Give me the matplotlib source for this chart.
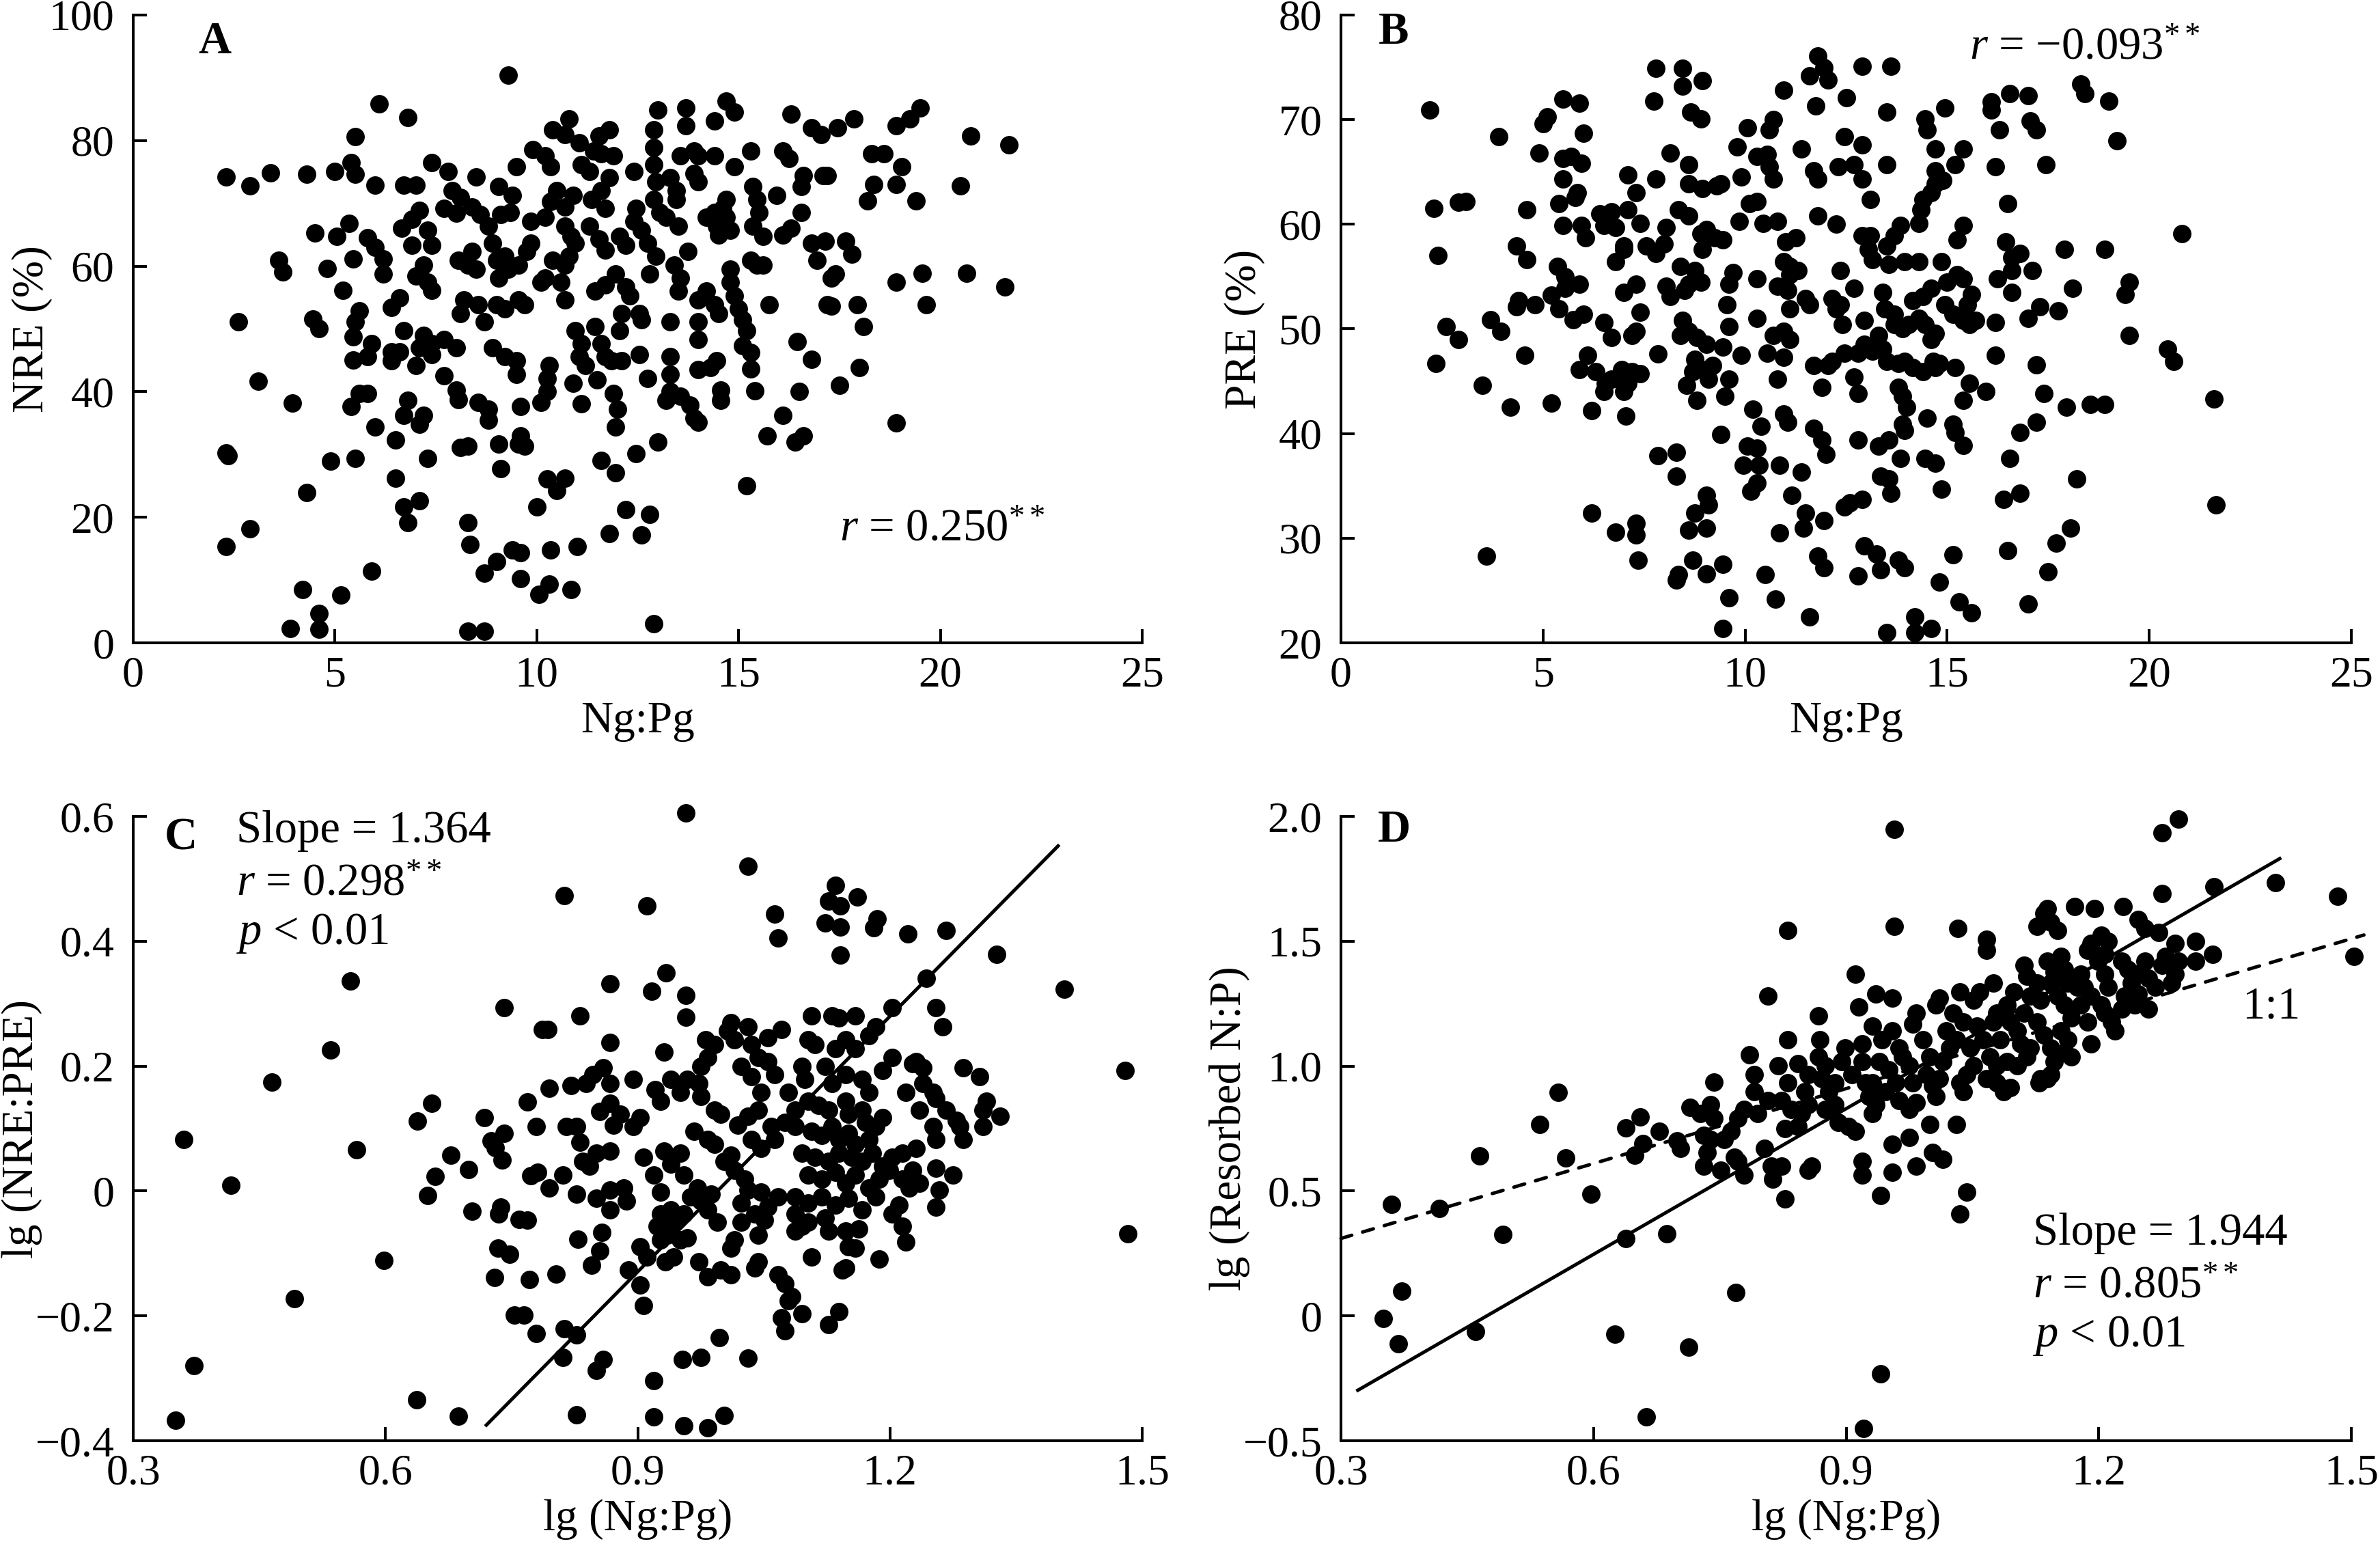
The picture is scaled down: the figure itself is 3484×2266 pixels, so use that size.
import numpy as np
import matplotlib
matplotlib.use("Agg")
import matplotlib.pyplot as plt

plt.rcParams['font.family'] = ['Liberation Serif', 'DejaVu Serif']
plt.rcParams['mathtext.fontset'] = 'custom'
plt.rcParams['mathtext.rm'] = 'Liberation Serif'
plt.rcParams['mathtext.it'] = 'Liberation Serif:italic'
plt.rcParams['axes.unicode_minus'] = True

# ---- data ----
# A: Ng:Pg vs NRE (%)
a_points = [
    (9.3, 90.4), (6.1, 85.9), (6.8, 83.7), (5.5, 80.6), (2.3, 74.2), (2.9, 72.8), (3.4, 74.9), (4.3, 74.6),
    (5.0, 75.1), (5.4, 76.5), (5.5, 74.6), (6.0, 72.9), (6.7, 72.9), (7.0, 72.9), (7.4, 76.5), (7.8, 75.1),
    (2.6, 51.1), (3.1, 41.7), (2.3, 30.3), (2.35, 29.8), (2.3, 15.3), (2.9, 18.2), (3.6, 60.9), (3.7, 59.1),
    (3.95, 38.2), (3.9, 2.3), (4.2, 8.5), (4.3, 23.9), (4.6, 4.7), (4.6, 2.2), (4.5, 65.3), (4.45, 51.6),
    (4.6, 50.1), (4.8, 59.6), (5.05, 64.7), (4.9, 28.9), (5.15, 7.6), (5.2, 56.1), (5.45, 61.1), (5.35, 66.8),
    (5.6, 52.9), (5.5, 51.1), (5.45, 48.7), (5.45, 45.1), (5.4, 37.7), (5.6, 39.7), (5.8, 39.7), (5.5, 29.4),
    (5.9, 11.4), (5.8, 64.5), (6.0, 63.0), (6.2, 61.2), (6.2, 58.8), (5.9, 47.7), (5.8, 45.6), (6.0, 34.4),
    (6.4, 46.4), (6.6, 46.4), (6.4, 44.9), (6.5, 32.3), (6.5, 26.2), (6.7, 21.6), (6.8, 19.1), (7.1, 22.6),
    (7.3, 29.4), (6.6, 55.0), (6.4, 53.4), (6.65, 66.1), (6.9, 67.5), (7.1, 68.9), (6.9, 63.3), (7.0, 58.4),
    (7.2, 60.2), (7.3, 57.4), (7.4, 56.1), (7.3, 65.7), (7.4, 63.3), (6.7, 49.7), (7.2, 49.0), (7.4, 47.7),
    (7.1, 47.0), (7.4, 45.9), (7.7, 48.3), (8.0, 47.0), (7.0, 44.2), (6.8, 38.6), (6.7, 36.2), (7.2, 36.2),
    (7.1, 34.8), (7.7, 42.6), (8.0, 40.3), (8.05, 38.7), (7.7, 69.2), (8.0, 68.4), (7.9, 72.0), (8.1, 71.0),
    (8.5, 74.2), (9.05, 72.7), (9.4, 71.3), (8.4, 69.4), (8.6, 68.2), (8.8, 66.4), (9.1, 68.2), (9.35, 68.5),
    (8.05, 60.9), (8.3, 60.2), (8.4, 62.3), (8.5, 59.5), (8.1, 52.5), (8.2, 54.6), (8.55, 53.9), (8.7, 51.1),
    (8.9, 63.7), (9.0, 60.9), (9.2, 61.6), (9.0, 53.9), (9.2, 53.2), (9.55, 54.6), (9.7, 53.9), (9.05, 58.1),
    (9.3, 59.5), (9.55, 60.2), (9.85, 63.7), (9.75, 62.3), (9.85, 67.1), (10.2, 67.8), (9.5, 75.8), (9.9, 78.6),
    (10.2, 77.6), (10.4, 81.7), (10.8, 83.5), (10.35, 75.8), (10.7, 81.0), (11.05, 79.7), (8.9, 47.0), (9.2, 45.6),
    (9.5, 44.9), (9.5, 42.8), (9.05, 31.7), (9.6, 33.0), (9.55, 31.7), (9.7, 31.3), (9.6, 37.6), (8.3, 31.3),
    (8.3, 19.1), (8.35, 15.7), (8.55, 38.3), (8.8, 37.2), (8.8, 35.5), (8.1, 31.1), (9.1, 27.8), (8.7, 11.1),
    (9.0, 12.9), (8.3, 1.9), (8.7, 1.9), (9.4, 14.8), (9.6, 14.4), (9.6, 10.2), (10.05, 7.7), (10.3, 9.4),
    (10.35, 14.8), (11.0, 15.3), (10.0, 21.6), (10.85, 8.5), (10.25, 26.1), (10.5, 24.3), (10.7, 26.2), (10.1, 38.3),
    (10.25, 40.0), (10.3, 44.2), (10.25, 42.1), (10.9, 41.4), (11.1, 38.1), (10.1, 57.4), (10.2, 58.1), (10.6, 57.4),
    (10.7, 54.6), (10.4, 60.9), (10.7, 60.2), (10.8, 61.6), (10.7, 66.4), (10.85, 64.7), (10.95, 63.7), (10.35, 70.3),
    (10.7, 69.4), (10.5, 72.0), (10.9, 71.3), (11.1, 76.2), (11.3, 75.1), (11.4, 78.3), (11.6, 77.9), (11.55, 80.7),
    (11.8, 81.7), (11.9, 77.6), (11.35, 70.6), (11.6, 72.0), (11.7, 69.2), (11.8, 74.1), (11.3, 66.4), (11.55, 64.3),
    (11.7, 62.6), (12.2, 63.3), (12.05, 64.7), (11.45, 56.0), (11.7, 57.0), (11.95, 58.8), (12.2, 56.7), (12.3, 55.3),
    (10.95, 49.7), (11.1, 47.7), (11.05, 45.6), (11.2, 44.2), (11.45, 50.4), (11.6, 47.7), (11.7, 45.6), (11.85, 44.9),
    (12.1, 44.9), (12.05, 49.7), (11.5, 41.9), (11.9, 39.7), (12.0, 37.2), (11.95, 34.4), (11.6, 29.0), (11.95, 27.1),
    (12.2, 21.2), (11.8, 17.4), (12.45, 30.1), (12.8, 20.5), (12.6, 17.2), (13.0, 32.0), (12.9, 3.1), (12.55, 45.9),
    (12.75, 42.1), (12.55, 52.5), (12.6, 51.5), (12.1, 52.5), (12.4, 75.1), (12.45, 69.2), (12.4, 67.1), (12.6, 65.7),
    (12.75, 63.7), (12.8, 58.8), (12.95, 61.6), (12.9, 81.7), (12.9, 78.9), (13.0, 84.9), (12.9, 76.2), (12.95, 73.4),
    (12.9, 70.6), (13.05, 68.5), (13.3, 74.1), (13.45, 72.0), (13.45, 70.6), (13.55, 77.6), (13.7, 85.2), (13.7, 82.4),
    (13.9, 78.3), (13.2, 67.8), (13.5, 66.4), (13.75, 62.3), (13.4, 60.2), (13.55, 58.1), (13.5, 56.0), (13.3, 51.1),
    (13.3, 45.6), (13.3, 42.8), (13.3, 40.0), (13.55, 39.3), (13.2, 38.6), (13.8, 37.9), (13.9, 35.8), (14.0, 35.1),
    (14.0, 48.3), (14.0, 43.5), (14.3, 43.8), (14.45, 44.9), (14.55, 40.3), (14.55, 38.6), (14.0, 51.1), (14.0, 54.6),
    (14.2, 56.0), (14.4, 53.9), (14.5, 52.5), (13.9, 74.8), (14.0, 77.6), (14.0, 73.4), (14.4, 77.6), (14.4, 83.1),
    (14.7, 86.3), (14.9, 84.5), (14.2, 67.8), (14.4, 68.5), (14.45, 66.4), (14.7, 70.6), (14.6, 69.2), (14.7, 67.8),
    (14.8, 65.7), (14.5, 65.0), (14.9, 75.8), (14.8, 59.5), (14.8, 57.4), (14.9, 55.3), (15.0, 53.2), (15.1, 51.5),
    (15.2, 49.7), (15.1, 47.3), (15.3, 46.3), (15.3, 43.6), (15.4, 40.2), (15.2, 25.0), (15.7, 33.0), (16.1, 36.2),
    (15.3, 78.3), (15.35, 72.7), (15.45, 70.6), (15.5, 68.5), (15.35, 66.4), (15.6, 64.7), (15.3, 60.9), (15.45, 60.2),
    (15.6, 60.2), (15.75, 53.9), (15.95, 71.3), (16.1, 78.3), (16.25, 77.2), (16.3, 84.2), (16.1, 65.0), (16.3, 66.1),
    (16.55, 68.5), (16.55, 72.7), (16.6, 74.4), (16.45, 48.0), (16.5, 40.0), (16.4, 32.0), (16.6, 33.0), (16.8, 45.2),
    (16.8, 82.1), (17.05, 81.0), (17.45, 82.1), (17.85, 83.5), (17.1, 74.4), (17.2, 74.4), (16.8, 63.7), (17.15, 64.0),
    (16.95, 60.9), (17.3, 58.1), (17.4, 58.8), (17.2, 53.9), (17.3, 53.6), (17.5, 41.0), (17.65, 64.0), (17.8, 61.9),
    (17.95, 53.9), (18.1, 50.4), (18.0, 43.8), (18.2, 70.4), (18.35, 73.0), (18.3, 77.9), (18.6, 77.9), (18.9, 82.4),
    (19.25, 83.5), (19.5, 85.2), (18.9, 73.0), (19.05, 75.8), (19.4, 70.4), (18.9, 57.4), (19.55, 58.9), (19.65, 53.9),
    (18.9, 35.0), (20.5, 72.8), (20.75, 80.7), (20.65, 58.9), (21.7, 79.3), (21.6, 56.7),
]

# B: Ng:Pg vs PRE (%)
b_points = [
    (2.2, 70.9), (2.3, 61.5), (2.4, 57.0), (2.35, 46.7), (2.6, 50.2), (2.9, 49.0), (2.9, 62.1), (3.1, 62.2),
    (3.5, 44.6), (3.6, 28.3), (3.7, 50.9), (3.95, 49.8), (3.9, 68.4), (4.2, 42.5), (4.35, 57.9), (4.6, 56.6),
    (4.6, 61.4), (4.4, 52.7), (4.35, 52.1), (4.8, 52.3), (4.55, 47.5), (4.9, 66.8), (5.0, 69.6), (5.1, 70.3),
    (5.5, 72.0), (5.9, 71.6), (5.5, 66.3), (5.7, 66.5), (5.95, 65.8), (6.0, 68.7), (5.5, 64.3), (5.4, 62.0),
    (5.8, 62.6), (5.85, 63.0), (5.5, 59.9), (5.95, 59.9), (6.05, 58.7), (5.2, 53.2), (5.4, 51.9), (5.35, 56.0),
    (5.55, 55.0), (5.9, 54.3), (5.55, 53.9), (5.75, 50.9), (6.0, 51.4), (5.2, 42.9), (5.9, 46.1), (6.1, 47.5),
    (6.3, 45.9), (6.2, 42.2), (6.2, 32.4), (6.4, 61.0), (6.5, 59.9), (6.7, 61.2), (6.8, 59.7), (6.8, 56.4),
    (7.0, 57.6), (7.0, 57.9), (6.5, 50.6), (6.7, 49.2), (6.5, 44.0), (6.7, 45.2), (6.55, 44.8), (7.0, 44.0),
    (7.1, 44.8), (7.05, 41.7), (6.95, 46.1), (7.2, 45.9), (7.4, 45.7), (6.8, 30.6), (7.1, 64.7), (7.3, 63.0),
    (7.1, 61.4), (7.4, 60.1), (7.0, 53.5), (7.3, 54.3), (7.4, 51.6), (7.3, 49.8), (7.2, 49.4), (7.3, 31.4),
    (7.3, 30.3), (7.35, 27.9), (7.8, 64.3), (7.75, 71.8), (7.8, 74.9), (7.55, 57.9), (7.8, 57.2), (8.0, 58.1),
    (8.05, 59.7), (8.15, 66.8), (8.6, 65.7), (8.05, 54.1), (8.15, 53.1), (8.5, 53.7), (7.85, 47.6), (7.85, 37.9),
    (8.3, 38.2), (8.3, 35.9), (8.3, 26.0), (8.35, 26.5), (8.45, 74.9), (8.45, 73.2), (8.95, 73.7), (8.65, 70.7),
    (8.9, 70.1), (8.6, 63.9), (8.95, 63.4), (9.3, 63.7), (8.35, 61.4), (8.6, 60.8), (8.9, 59.1), (9.05, 59.5),
    (8.95, 57.6), (8.4, 56.0), (8.75, 55.6), (8.9, 54.5), (8.6, 54.3), (8.45, 50.8), (8.6, 49.8), (8.4, 49.4),
    (8.8, 49.2), (9.05, 48.5), (8.75, 47.1), (8.95, 46.1), (8.7, 45.9), (9.2, 46.5), (9.1, 45.2), (8.55, 44.6),
    (8.8, 43.2), (9.05, 34.1), (9.1, 33.2), (8.75, 32.4), (8.6, 30.8), (9.05, 31.0), (8.7, 27.9), (9.05, 26.6),
    (9.45, 27.5), (9.6, 24.3), (9.45, 21.4), (9.25, 58.7), (9.45, 58.5), (9.7, 55.4), (9.6, 54.3), (9.55, 52.3),
    (9.6, 50.2), (9.45, 48.3), (9.9, 47.5), (9.6, 45.2), (9.5, 43.6), (9.4, 39.9), (9.4, 63.9), (9.8, 67.4),
    (9.9, 64.5), (10.05, 69.2), (10.3, 66.5), (10.55, 66.7), (10.6, 69.0), (10.7, 70.0), (9.85, 60.3), (10.1, 62.0),
    (10.3, 62.2), (10.45, 60.1), (10.8, 60.3), (10.7, 64.3), (10.6, 65.5), (10.3, 54.8), (10.8, 54.1), (11.0, 58.3),
    (11.25, 58.7), (10.95, 56.4), (11.1, 56.0), (11.3, 55.6), (11.1, 55.2), (11.05, 53.7), (11.1, 51.9), (10.3, 51.0),
    (10.7, 49.4), (10.95, 49.8), (11.1, 49.0), (10.55, 47.7), (10.95, 47.3), (10.8, 45.2), (10.2, 42.3), (10.4, 40.7),
    (10.95, 41.9), (11.05, 41.1), (10.05, 38.8), (10.3, 38.6), (9.95, 37.0), (10.35, 37.0), (10.85, 37.0), (10.3, 35.3),
    (10.15, 34.5), (11.15, 34.1), (11.4, 36.3), (10.85, 30.5), (11.5, 32.4), (11.45, 31.0), (11.95, 31.7), (10.5, 26.5),
    (10.75, 24.2), (11.6, 22.5), (11.4, 67.2), (11.7, 65.1), (11.8, 64.3), (11.75, 71.3), (11.6, 74.2), (11.8, 76.1),
    (11.95, 75.0), (12.05, 73.8), (10.95, 72.8), (11.8, 60.8), (12.25, 60.0), (12.35, 55.6), (11.5, 52.9), (11.6, 52.3),
    (12.15, 52.9), (12.25, 51.9), (12.4, 50.4), (12.35, 52.3), (11.7, 46.5), (12.05, 46.5), (11.9, 44.4), (12.15, 46.9),
    (12.45, 47.7), (11.7, 40.5), (11.9, 39.4), (12.0, 38.0), (11.8, 28.3), (11.95, 27.2), (12.45, 33.0), (12.6, 33.4),
    (12.9, 33.7), (12.3, 65.5), (12.7, 65.7), (12.9, 67.6), (12.45, 68.4), (12.9, 64.3), (12.5, 72.1), (12.9, 75.1),
    (13.6, 75.1), (13.1, 62.4), (13.5, 70.7), (13.5, 65.7), (12.9, 58.9), (13.05, 57.6), (13.15, 56.6), (13.55, 56.2),
    (13.1, 58.9), (12.7, 53.9), (12.95, 50.8), (12.8, 47.7), (13.15, 47.9), (12.95, 48.5), (12.7, 45.4), (12.8, 43.8),
    (12.8, 39.4), (13.3, 38.8), (13.55, 39.4), (13.35, 35.9), (13.55, 35.7), (13.6, 34.3), (13.85, 37.6), (12.95, 29.3),
    (13.25, 28.5), (13.35, 27.0), (13.8, 27.9), (13.95, 27.2), (12.8, 26.4), (13.5, 21.0), (14.2, 22.5), (14.2, 21.0),
    (14.6, 21.4), (13.4, 53.5), (13.45, 51.9), (13.7, 51.4), (13.7, 50.4), (13.9, 50.0), (13.3, 49.4), (13.4, 48.1),
    (13.5, 46.9), (13.8, 46.7), (13.95, 46.9), (13.8, 44.4), (13.9, 43.6), (14.0, 42.5), (13.9, 40.9), (13.95, 40.3),
    (13.5, 57.9), (13.7, 58.9), (13.85, 59.9), (13.95, 56.4), (14.3, 56.4), (14.15, 52.7), (14.4, 53.1), (14.6, 53.9),
    (14.3, 51.0), (14.05, 50.4), (14.45, 50.4), (14.15, 46.3), (14.4, 45.9), (14.65, 46.9), (14.7, 46.3), (14.8, 46.7),
    (14.5, 41.5), (14.6, 49.0), (14.7, 49.6), (14.45, 37.6), (14.7, 37.2), (14.85, 34.7), (14.8, 25.8), (14.3, 60.1),
    (14.35, 61.4), (14.4, 62.4), (14.6, 63.0), (14.7, 63.9), (14.7, 65.1), (14.9, 64.2), (14.45, 70.1), (14.5, 69.0),
    (14.7, 67.2), (14.95, 71.1), (15.2, 65.7), (15.4, 67.2), (15.4, 59.9), (15.25, 58.5), (14.85, 56.4), (15.0, 54.5),
    (15.25, 55.2), (15.4, 54.8), (15.6, 53.3), (14.95, 52.3), (15.15, 51.4), (15.4, 50.8), (15.55, 50.4), (15.7, 50.8),
    (15.5, 52.3), (15.2, 46.3), (15.55, 44.8), (15.4, 43.2), (15.95, 44.0), (15.15, 40.9), (15.2, 40.1), (15.4, 38.9),
    (15.15, 28.4), (15.3, 23.9), (15.6, 22.9), (16.1, 71.7), (16.1, 70.9), (16.3, 69.0), (16.2, 65.5), (16.55, 72.5),
    (17.0, 72.3), (17.05, 69.9), (17.2, 69.0), (17.45, 65.7), (16.5, 62.0), (16.45, 58.3), (16.6, 56.8), (16.8, 57.2),
    (16.6, 55.6), (16.25, 54.8), (16.6, 53.5), (17.1, 55.6), (17.0, 51.0), (17.3, 52.1), (17.75, 51.7), (18.1, 53.9),
    (16.2, 50.6), (16.2, 47.5), (17.2, 46.6), (17.4, 43.8), (17.95, 42.5), (18.55, 42.8), (18.9, 42.8), (17.2, 41.1),
    (16.8, 40.1), (16.55, 37.6), (16.8, 34.3), (16.4, 33.7), (17.9, 57.6), (18.9, 57.6), (18.05, 31.0), (17.7, 29.5),
    (17.5, 26.8), (16.5, 28.8), (17.0, 23.7), (18.2, 35.7), (18.3, 73.4), (18.4, 72.5), (19.0, 71.8), (19.2, 68.0),
    (19.5, 54.5), (19.4, 53.3), (19.5, 49.4), (20.45, 48.1), (20.6, 46.9), (20.8, 59.1), (21.6, 43.3), (21.65, 33.2),
]

# C: lg(Ng:Pg) vs lg(NRE:PRE)
c_points = [
    (0.35, -0.367), (0.36, 0.083), (0.372, -0.28), (0.416, 0.009), (0.465, 0.174), (0.492, -0.172), (0.535, 0.226),
    (0.558, 0.336), (0.566, 0.066), (0.598, -0.111), (0.637, -0.334), (0.638, 0.112), (0.655, 0.14), (0.65, -0.007),
    (0.659, 0.023), (0.678, 0.057), (0.687, -0.361), (0.699, 0.034), (0.703, -0.032), (0.718, 0.118), (0.726, 0.08),
    (0.731, 0.069), (0.741, 0.092), (0.739, 0.05), (0.737, -0.026), (0.735, -0.037), (0.741, 0.294), (0.734, -0.091),
    (0.748, -0.101), (0.73, -0.139), (0.753, -0.199), (0.765, -0.199), (0.759, -0.045), (0.769, -0.047), (0.771, -0.142),
    (0.769, 0.143), (0.779, 0.103), (0.779, -0.228), (0.773, 0.024), (0.781, 0.03), (0.795, 0.005), (0.787, 0.259),
    (0.793, 0.259), (0.795, 0.165), (0.803, -0.133), (0.813, 0.473), (0.811, -0.266), (0.813, -0.221), (0.827, -0.23),
    (0.821, 0.169), (0.839, 0.172), (0.847, 0.186), (0.859, 0.197), (0.867, 0.172), (0.815, 0.103), (0.827, 0.103),
    (0.831, 0.078), (0.811, 0.026), (0.827, -0.005), (0.835, 0.047), (0.843, 0.04), (0.851, 0.061), (0.867, 0.064),
    (0.831, 0.28), (0.855, 0.127), (0.867, 0.141), (0.871, 0.106), (0.879, 0.123), (0.851, -0.012), (0.867, 0.002),
    (0.867, -0.03), (0.887, -0.016), (0.883, 0.005), (0.829, -0.077), (0.857, -0.066), (0.855, -0.096), (0.845, -0.119),
    (0.859, -0.27), (0.851, -0.287), (0.827, -0.358), (0.867, 0.238), (0.867, 0.332), (0.889, -0.126), (0.903, -0.151),
    (0.907, -0.183), (0.895, 0.103), (0.903, 0.117), (0.895, 0.179), (0.921, 0.162), (0.927, 0.144), (0.917, 0.32),
    (0.934, 0.35), (0.931, 0.222), (0.957, 0.313), (0.957, 0.278), (0.911, 0.457), (0.957, 0.605), (1.031, 0.52),
    (0.907, 0.054), (0.919, 0.026), (0.927, -0.002), (0.931, 0.064), (0.939, 0.043), (0.951, 0.061), (0.955, 0.026),
    (0.927, -0.037), (0.939, -0.03), (0.943, -0.05), (0.955, -0.037), (0.951, -0.078), (0.903, -0.089), (0.911, -0.106),
    (0.923, -0.057), (0.927, -0.078), (0.935, -0.071), (0.933, -0.113), (0.943, -0.106), (0.959, -0.075), (0.919, -0.304),
    (0.919, -0.362), (0.953, -0.27), (0.975, -0.266), (0.955, -0.376), (0.983, -0.379), (1.003, -0.36), (0.939, 0.179),
    (0.951, 0.158), (0.959, 0.179), (0.973, 0.172), (0.975, 0.151), (0.967, 0.096), (0.963, -0.009), (0.971, 0.005),
    (0.975, -0.016), (0.987, -0.005), (0.983, -0.03), (0.973, -0.113), (0.983, -0.137), (0.999, -0.127), (1.011, -0.134),
    (0.995, -0.05), (0.997, -0.235), (1.031, -0.268), (0.983, 0.082), (0.991, 0.075), (1.003, 0.047), (1.011, 0.057),
    (0.999, 0.123), (0.991, 0.13), (0.981, 0.242), (0.983, 0.214), (0.975, 0.2), (0.991, 0.235), (1.007, 0.256),
    (1.011, 0.27), (1.015, 0.242), (1.031, 0.263), (1.035, 0.235), (1.043, 0.214), (1.023, 0.2), (1.035, 0.183),
    (1.047, 0.158), (1.055, 0.245), (1.071, 0.259), (1.055, 0.207), (1.063, 0.186), (1.079, 0.158), (1.015, 0.033),
    (1.027, 0.019), (1.031, 0.002), (1.023, -0.019), (1.047, -0.002), (1.055, -0.026), (1.067, -0.009), (1.019, 0.106),
    (1.031, 0.12), (1.043, 0.13), (1.035, 0.082), (1.047, 0.068), (1.063, 0.082), (1.059, 0.103), (1.075, 0.11),
    (1.039, -0.037), (1.051, -0.047), (1.043, -0.071), (1.023, -0.05), (1.015, -0.078), (1.011, -0.092), (1.039, -0.123),
    (1.043, -0.113), (1.067, -0.134), (1.075, -0.148), (1.079, -0.176), (1.083, -0.169), (1.071, -0.203), (1.075, -0.224),
    (1.095, -0.197), (1.063, 0.443), (1.067, 0.405), (1.135, 0.489), (1.127, 0.464), (1.141, 0.457), (1.123, 0.429),
    (1.141, 0.423), (1.141, 0.378), (1.161, 0.471), (1.185, 0.436), (1.181, 0.422), (1.221, 0.412), (1.267, 0.417),
    (1.327, 0.379), (1.107, 0.28), (1.131, 0.28), (1.139, 0.277), (1.159, 0.28), (1.203, 0.294), (1.243, 0.341),
    (1.255, 0.294), (1.263, 0.263), (1.407, 0.323), (1.48, 0.193), (1.483, -0.068), (1.103, 0.242), (1.111, 0.235),
    (1.135, 0.228), (1.147, 0.242), (1.159, 0.228), (1.175, 0.249), (1.183, 0.263), (1.095, 0.2), (1.099, 0.179),
    (1.123, 0.2), (1.131, 0.172), (1.147, 0.186), (1.167, 0.179), (1.175, 0.158), (1.191, 0.193), (1.203, 0.214),
    (1.227, 0.204), (1.087, 0.13), (1.103, 0.144), (1.115, 0.137), (1.127, 0.13), (1.147, 0.144), (1.151, 0.123),
    (1.167, 0.13), (1.171, 0.11), (1.087, 0.103), (1.107, 0.096), (1.119, 0.089), (1.131, 0.103), (1.139, 0.082),
    (1.151, 0.092), (1.159, 0.075), (1.175, 0.082), (1.183, 0.103), (1.191, 0.117), (1.095, 0.061), (1.111, 0.054),
    (1.127, 0.047), (1.139, 0.061), (1.155, 0.054), (1.167, 0.047), (1.179, 0.061), (1.191, 0.04), (1.203, 0.054),
    (1.103, 0.026), (1.119, 0.019), (1.135, 0.03), (1.147, 0.012), (1.159, 0.026), (1.175, 0.005), (1.187, 0.019),
    (1.199, 0.033), (1.215, 0.019), (1.087, -0.009), (1.103, -0.019), (1.119, -0.009), (1.135, -0.023), (1.151, -0.012),
    (1.167, -0.03), (1.183, -0.009), (1.087, -0.037), (1.095, -0.057), (1.103, -0.05), (1.123, -0.043), (1.127, -0.064),
    (1.087, -0.064), (1.107, -0.106), (1.147, -0.064), (1.151, -0.089), (1.163, -0.061), (1.159, -0.092), (1.143, -0.127),
    (1.147, -0.123), (1.187, -0.109), (1.203, -0.037), (1.215, -0.057), (1.219, -0.082), (1.127, -0.214), (1.139, -0.193),
    (1.211, -0.023), (1.223, 0.005), (1.227, 0.033), (1.235, 0.012), (1.215, 0.061), (1.231, 0.068), (1.219, 0.158),
    (1.239, 0.172), (1.235, 0.13), (1.251, 0.103), (1.255, 0.082), (1.255, 0.037), (1.259, 0.002), (1.255, -0.026),
    (1.275, 0.026), (1.267, 0.13), (1.279, 0.113), (1.287, 0.082), (1.283, 0.103), (1.311, 0.13), (1.315, 0.144),
    (1.331, 0.12), (1.311, 0.103), (1.307, 0.183), (1.287, 0.197), (1.239, 0.197), (1.231, 0.207), (1.251, 0.158),
    (1.255, 0.148),
]

# D: lg(Ng:Pg) vs lg(Resorbed N:P)
d_points = [
    (0.36, 0.447), (0.372, 0.098), (0.35, -0.01), (0.368, -0.112), (0.417, 0.429), (0.465, 0.64), (0.46, -0.063),
    (0.492, 0.325), (0.536, 0.766), (0.558, 0.894), (0.567, 0.632), (0.597, 0.487), (0.625, -0.072), (0.638, 0.309),
    (0.638, 0.754), (0.655, 0.796), (0.659, 0.691), (0.649, 0.644), (0.678, 0.74), (0.687, 0.33), (0.663, -0.403),
    (0.699, 0.702), (0.703, 0.67), (0.713, -0.124), (0.715, 0.836), (0.727, 0.81), (0.739, 0.845), (0.743, 0.792),
    (0.731, 0.722), (0.739, 0.705), (0.735, 0.653), (0.731, 0.6), (0.751, 0.583), (0.743, 0.937), (0.755, 0.705),
    (0.763, 0.74), (0.767, 0.635), (0.771, 0.618), (0.779, 0.565), (0.769, 0.094), (0.771, 0.792), (0.779, 0.827),
    (0.795, 0.81), (0.791, 0.897), (0.785, 1.045), (0.791, 0.967), (0.807, 0.862), (0.803, 0.67), (0.811, 0.6),
    (0.813, 0.548), (0.823, 0.6), (0.827, 0.469), (0.807, 1.281), (0.819, 1.002), (0.831, 0.932), (0.831, 1.106),
    (0.823, 0.862), (0.827, 0.749), (0.835, 0.827), (0.831, 1.543), (0.843, 1.01), (0.855, 0.967), (0.851, 0.897),
    (0.855, 0.845), (0.847, 0.81), (0.843, 0.757), (0.855, 0.583), (0.859, 0.6), (0.867, 1.202), (0.869, 1.106),
    (0.867, 1.037), (0.875, 1.002), (0.871, 0.95), (0.879, 0.897), (0.875, 0.827), (0.887, 0.845), (0.891, 0.775),
    (0.887, 0.932), (0.895, 1.019), (0.899, 1.072), (0.907, 0.967), (0.903, 0.757), (0.911, 0.74), (0.911, 1.368),
    (0.915, 1.237), (0.919, 1.089), (0.919, 1.019), (0.923, 0.932), (0.927, 0.879), (0.931, 0.932), (0.935, 0.845),
    (0.931, 0.81), (0.919, 0.618), (0.919, 0.565), (0.941, 0.482), (0.941, -0.232), (0.921, -0.452), (0.935, 1.29),
    (0.955, 1.272), (0.957, 1.56), (0.957, 1.948), (0.931, 1.159), (0.943, 1.106), (0.955, 1.141), (0.963, 1.072),
    (0.967, 1.037), (0.975, 1.002), (0.939, 1.019), (0.951, 0.984), (0.959, 0.932), (0.947, 0.897), (0.963, 0.862),
    (0.975, 0.827), (0.983, 0.853), (0.979, 0.932), (0.983, 1.211), (0.979, 1.168), (0.955, 0.688), (0.975, 0.714),
    (0.983, 0.6), (0.955, 0.574), (1.003, 0.653), (1.015, 0.627), (0.999, 0.766), (1.031, 0.766), (1.035, 0.408),
    (1.043, 0.495), (0.991, 1.106), (0.999, 1.037), (0.995, 0.967), (1.003, 0.923), (1.007, 0.879), (1.011, 0.949),
    (1.015, 1.019), (1.007, 1.246), (1.011, 1.272), (1.019, 1.141), (1.023, 1.072), (1.031, 1.106), (1.027, 1.211),
    (1.035, 1.298), (1.039, 1.176), (1.047, 1.072), (1.043, 0.967), (1.035, 0.932), (1.051, 1.002), (1.039, 0.897),
    (1.033, 1.551), (1.067, 1.508), (1.067, 1.464), (1.051, 1.264), (1.059, 1.298), (1.075, 1.333), (1.055, 1.159),
    (1.063, 1.106), (1.075, 1.176), (1.083, 1.106), (1.071, 1.037), (1.079, 1.002), (1.067, 0.949), (1.079, 0.932),
    (1.087, 0.897), (1.095, 0.914), (1.091, 1.019), (1.079, 1.211), (1.091, 1.246), (1.099, 1.298), (1.095, 1.176),
    (1.103, 1.141), (1.111, 1.211), (1.107, 1.089), (1.115, 1.037), (1.103, 1.002), (1.119, 1.072), (1.111, 1.403),
    (1.115, 1.359), (1.127, 1.333), (1.119, 1.281), (1.131, 1.264), (1.127, 1.176), (1.135, 1.124), (1.143, 1.072),
    (1.147, 1.019), (1.131, 0.949), (1.143, 0.967), (1.127, 1.56), (1.135, 1.612), (1.143, 1.577), (1.151, 1.543),
    (1.139, 1.63), (1.129, 0.932), (1.139, 0.949), (1.139, 1.421), (1.147, 1.377), (1.155, 1.438), (1.159, 1.386),
    (1.163, 1.333), (1.151, 1.281), (1.159, 1.246), (1.167, 1.194), (1.155, 1.141), (1.163, 1.106), (1.167, 1.037),
    (1.159, 1.054), (1.171, 1.639), (1.195, 1.63), (1.187, 1.464), (1.179, 1.368), (1.183, 1.316), (1.191, 1.281),
    (1.179, 1.246), (1.187, 1.176), (1.191, 1.089), (1.199, 1.421), (1.207, 1.368), (1.211, 1.316), (1.203, 1.246),
    (1.207, 1.211), (1.215, 1.176), (1.219, 1.141), (1.211, 1.499), (1.207, 1.447), (1.227, 1.421), (1.235, 1.386),
    (1.239, 1.333), (1.231, 1.281), (1.227, 1.228), (1.243, 1.246), (1.247, 1.29), (1.229, 1.639), (1.247, 1.586),
    (1.255, 1.551), (1.255, 1.421), (1.251, 1.377), (1.259, 1.351), (1.259, 1.228), (1.267, 1.316), (1.275, 1.403),
    (1.279, 1.438), (1.271, 1.534), (1.291, 1.49), (1.295, 1.421), (1.291, 1.368), (1.287, 1.333), (1.275, 1.935),
    (1.295, 1.988), (1.275, 1.691), (1.315, 1.499), (1.315, 1.421), (1.335, 1.447), (1.337, 1.717), (1.41, 1.735),
    (1.484, 1.679), (1.503, 1.438), (1.143, 1.333), (1.175, 1.316), (1.191, 1.49), (1.203, 1.525),
]

# fitted lines (slope, intercept, x range)
c_fit = (1.364, -1.357, 0.72, 1.40)
d_fit = (1.944, -0.920, 0.32, 1.415)
d_one = (1.0, 0.01, 0.30, 1.515)

# ---- figure ----
fig = plt.figure(figsize=(17.42, 11.33), dpi=200)

W, H = 3484, 2266
def box(l, r, t, b):
    return [l / W, 1 - b / H, (r - l) / W, (b - t) / H]

ax_a = fig.add_axes(box(195, 1672, 22, 941))
ax_b = fig.add_axes(box(1963, 3442, 22, 941))
ax_c = fig.add_axes(box(195, 1672, 1195, 2109))
ax_d = fig.add_axes(box(1963, 3442, 1195, 2109))

TICK_FS = 23
LAB_FS = 23.5
ANN_FS = 24
MS = 94
LW = 1.8

def style(ax, xlim, ylim, xticks, yticks, xlab, ylab, xtl=None, ytl=None, ylab_x=-0.08):
    ax.set_xlim(*xlim)
    ax.set_ylim(*ylim)
    ax.set_xticks(xticks)
    ax.set_yticks(yticks)
    if xtl is not None:
        ax.set_xticklabels(xtl)
    if ytl is not None:
        ax.set_yticklabels(ytl)
    for s in ['top', 'right']:
        ax.spines[s].set_visible(False)
    for s in ['left', 'bottom']:
        ax.spines[s].set_linewidth(1.45)
    ax.tick_params(direction='in', length=7.2, width=1.45, labelsize=TICK_FS)
    ax.tick_params(axis='x', pad=7)
    ax.tick_params(axis='y', pad=10)
    ax.set_xlabel(xlab, fontsize=LAB_FS, labelpad=3)
    ax.set_ylabel(ylab, fontsize=LAB_FS)
    ax.yaxis.set_label_coords(ylab_x, 0.5)

def dots(ax, pts):
    p = np.array(pts)
    ax.scatter(p[:, 0], p[:, 1], s=MS, c='black', linewidths=0, zorder=3, clip_on=False)

# A
dots(ax_a, a_points)
style(ax_a, (0, 25), (0, 100), [0, 5, 10, 15, 20, 25], [0, 20, 40, 60, 80, 100],
      'Ng:Pg', 'NRE (%)', ylab_x=-0.08)
ax_a.text(0.081, 0.957, 'A', transform=ax_a.transAxes, fontsize=ANN_FS, fontweight='bold',
          ha='center', va='center')
ax_a.text(0.70, 0.181, r'$\mathit{r}$ = $0.250^{**}$', transform=ax_a.transAxes,
          fontsize=ANN_FS, ha='left', va='center')

# B
dots(ax_b, b_points)
style(ax_b, (0, 25), (20, 80), [0, 5, 10, 15, 20, 25], [20, 30, 40, 50, 60, 70, 80],
      'Ng:Pg', 'PRE (%)', ylab_x=-0.075)
ax_b.text(0.052, 0.972, 'B', transform=ax_b.transAxes, fontsize=ANN_FS, fontweight='bold',
          ha='center', va='center')
ax_b.text(0.622, 0.948, r'$\mathit{r}$ = $-0.093^{**}$',
          transform=ax_b.transAxes, fontsize=ANN_FS, ha='left', va='center')

# C
dots(ax_c, c_points)
k, b0, x0, x1 = c_fit
xs = np.array([x0, x1])
ax_c.plot(xs, k * xs + b0, color='black', lw=LW, zorder=2)
style(ax_c, (0.3, 1.5), (-0.4, 0.6), [0.3, 0.6, 0.9, 1.2, 1.5], [-0.4, -0.2, 0, 0.2, 0.4, 0.6],
      'lg (Ng:Pg)', 'lg (NRE:PRE)',
      xtl=['0.3', '0.6', '0.9', '1.2', '1.5'],
      ytl=['\u22120.4', '\u22120.2', '0', '0.2', '0.4', '0.6'], ylab_x=-0.09)
ax_c.text(0.047, 0.965, 'C', transform=ax_c.transAxes, fontsize=ANN_FS, fontweight='bold',
          ha='center', va='center')
ax_c.text(0.102, 0.976, 'Slope = 1.364', transform=ax_c.transAxes, fontsize=ANN_FS,
          ha='left', va='center')
ax_c.text(0.102, 0.892, r'$\mathit{r}$ = $0.298^{**}$', transform=ax_c.transAxes,
          fontsize=ANN_FS, ha='left', va='center')
ax_c.text(0.102, 0.812, r'$\mathit{p}$ < 0.01', transform=ax_c.transAxes,
          fontsize=ANN_FS, ha='left', va='center')

# D
dots(ax_d, d_points)
k, b0, x0, x1 = d_fit
xs = np.array([x0, x1])
ax_d.plot(xs, k * xs + b0, color='black', lw=LW, zorder=2)
k, b0, x0, x1 = d_one
xs = np.array([x0, x1])
ax_d.plot(xs, k * xs + b0, color='black', lw=LW, ls=(0, (3.3, 3.3)), dash_capstyle='round',
          zorder=2, clip_on=False)
style(ax_d, (0.3, 1.5), (-0.5, 2.0), [0.3, 0.6, 0.9, 1.2, 1.5], [-0.5, 0, 0.5, 1.0, 1.5, 2.0],
      'lg (Ng:Pg)', 'lg (Resorbed N:P)',
      xtl=['0.3', '0.6', '0.9', '1.2', '1.5'],
      ytl=['\u22120.5', '0', '0.5', '1.0', '1.5', '2.0'], ylab_x=-0.09)
ax_d.text(0.053, 0.978, 'D', transform=ax_d.transAxes, fontsize=ANN_FS, fontweight='bold',
          ha='center', va='center')
ax_d.text(0.892, 0.695, '1:1', transform=ax_d.transAxes, fontsize=ANN_FS, ha='left', va='center')
ax_d.text(0.685, 0.332, 'Slope = 1.944', transform=ax_d.transAxes, fontsize=ANN_FS,
          ha='left', va='center')
ax_d.text(0.685, 0.248, r'$\mathit{r}$ = $0.805^{**}$', transform=ax_d.transAxes,
          fontsize=ANN_FS, ha='left', va='center')
ax_d.text(0.685, 0.168, r'$\mathit{p}$ < 0.01', transform=ax_d.transAxes,
          fontsize=ANN_FS, ha='left', va='center')

fig.savefig('out.png', dpi=200)
